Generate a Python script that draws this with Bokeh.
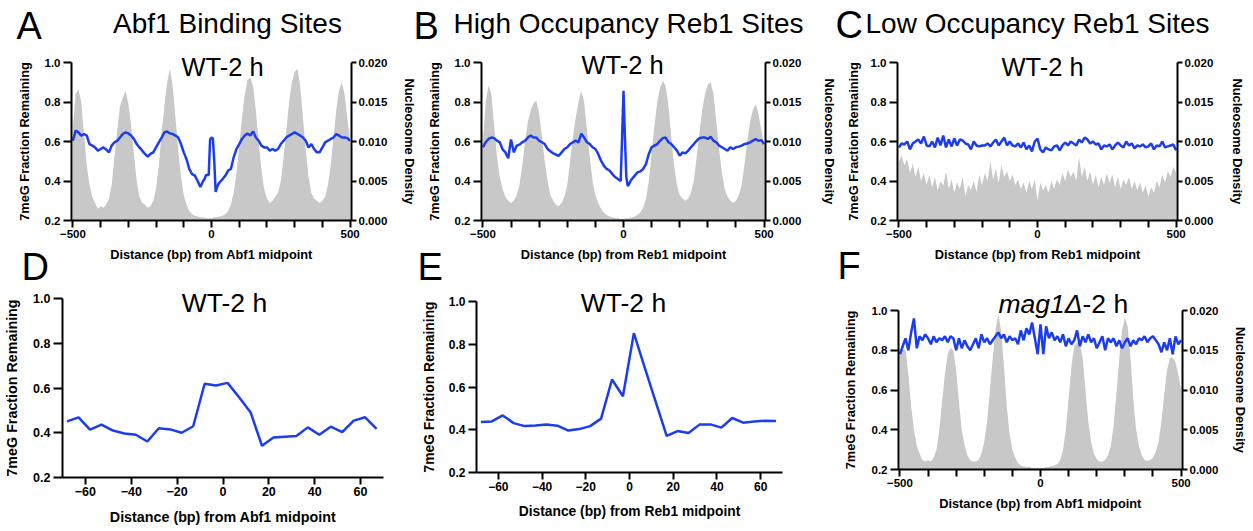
from bokeh.plotting import figure
from bokeh.models import Range1d, LinearAxis, FixedTicker, NumeralTickFormatter, Label, GridBox
from bokeh.layouts import row, column
from bokeh.embed import file_html
from bokeh.resources import INLINE

FONT = "Liberation Sans"
BLUE = "#1c3cf0"
GRAY = "#c8c8c8"

# ---------------- data ----------------
# bp positions (10 bp bins; central region of A/B at 5 bp)
pos_10 = list(range(-500, 501, 10))
pos_fine = list(range(-500, -30, 10)) + list(range(-30, 31, 5)) + list(range(40, 501, 10))
pos_zoom = list(range(-68, 68, 5))

# Panel A: Abf1 binding sites, WT-2 h
abf1_7meg = [0.604, 0.655, 0.646, 0.630, 0.638, 0.630, 0.587, 0.579, 0.570, 0.554,
             0.562, 0.570, 0.560, 0.545, 0.579, 0.596, 0.604, 0.620, 0.638, 0.646,
             0.641, 0.630, 0.613, 0.587, 0.570, 0.554, 0.537, 0.523, 0.537, 0.545,
             0.570, 0.596, 0.620, 0.646, 0.651, 0.641, 0.638, 0.630, 0.620, 0.587,
             0.545, 0.510, 0.460, 0.435, 0.427, 0.400, 0.370,
             0.400, 0.410, 0.430, 0.430, 0.430, 0.610, 0.620, 0.615, 0.500, 0.345, 0.370, 0.385, 0.395,
             0.410, 0.427, 0.453, 0.461, 0.520, 0.562, 0.587,
             0.613, 0.630, 0.641, 0.630, 0.651, 0.620, 0.604, 0.579, 0.570, 0.570,
             0.554, 0.562, 0.554, 0.562, 0.587, 0.604, 0.620, 0.630, 0.638, 0.646,
             0.638, 0.630, 0.620, 0.604, 0.570, 0.587, 0.562, 0.545, 0.545, 0.570,
             0.596, 0.604, 0.613, 0.620, 0.638, 0.630, 0.620, 0.620, 0.617, 0.604]
abf1_nuc = [0.0118, 0.0160, 0.0166, 0.0150, 0.0110, 0.0070, 0.0045, 0.0030, 0.0022, 0.0015,
            0.0018, 0.0016, 0.0020, 0.0028, 0.0045, 0.0080, 0.0115, 0.0145, 0.0155, 0.0164,
            0.0148, 0.0120, 0.0085, 0.0050, 0.0030, 0.0022, 0.0020, 0.0016, 0.0018, 0.0025,
            0.0040, 0.0070, 0.0110, 0.0145, 0.0175, 0.0192, 0.0170, 0.0130, 0.0090, 0.0055,
            0.0032, 0.0020, 0.0012, 0.0008, 0.0006, 0.0005, 0.0004, 0.0004, 0.0003, 0.0003,
            0.0003, 0.0004, 0.0004, 0.0005, 0.0006, 0.0008, 0.0012, 0.0020, 0.0035, 0.0060,
            0.0095, 0.0130, 0.0160, 0.0178, 0.0181, 0.0170, 0.0140, 0.0100, 0.0065, 0.0040,
            0.0028, 0.0022, 0.0025, 0.0030, 0.0035, 0.0050, 0.0080, 0.0115, 0.0150, 0.0175,
            0.0188, 0.0192, 0.0170, 0.0130, 0.0090, 0.0055, 0.0035, 0.0028, 0.0025, 0.0022,
            0.0025, 0.0030, 0.0045, 0.0070, 0.0105, 0.0140, 0.0165, 0.0175, 0.0160, 0.0130,
            0.0100]

# Panel B: high occupancy Reb1 sites, WT-2 h
reb1_hi_7meg = [0.571, 0.596, 0.613, 0.620, 0.617, 0.604, 0.596, 0.560, 0.545, 0.515,
                0.610, 0.545, 0.579, 0.584, 0.596, 0.604, 0.620, 0.630, 0.620, 0.620,
                0.604, 0.596, 0.587, 0.562, 0.550, 0.540, 0.533, 0.528, 0.545, 0.562,
                0.571, 0.587, 0.596, 0.604, 0.596, 0.640, 0.620, 0.596, 0.587, 0.571,
                0.562, 0.537, 0.503, 0.478, 0.461, 0.453, 0.436,
                0.420, 0.415, 0.410, 0.405, 0.400, 0.620, 0.857, 0.620, 0.420, 0.375, 0.385, 0.400, 0.410,
                0.427, 0.444, 0.449, 0.461, 0.486, 0.537, 0.571,
                0.579, 0.587, 0.604, 0.617, 0.620, 0.596, 0.587, 0.571, 0.554, 0.528,
                0.545, 0.540, 0.554, 0.571, 0.587, 0.604, 0.617, 0.620, 0.620, 0.613,
                0.624, 0.604, 0.596, 0.579, 0.571, 0.562, 0.554, 0.571, 0.562, 0.571,
                0.574, 0.579, 0.587, 0.590, 0.596, 0.604, 0.613, 0.604, 0.607, 0.587]
reb1_hi_nuc = [0.0100, 0.0150, 0.0171, 0.0160, 0.0120, 0.0080, 0.0055, 0.0040, 0.0030, 0.0025,
               0.0022, 0.0025, 0.0032, 0.0045, 0.0070, 0.0100, 0.0125, 0.0140, 0.0148, 0.0152,
               0.0135, 0.0105, 0.0075, 0.0050, 0.0032, 0.0025, 0.0020, 0.0018, 0.0022, 0.0030,
               0.0045, 0.0075, 0.0105, 0.0130, 0.0150, 0.0164, 0.0150, 0.0115, 0.0080, 0.0050,
               0.0032, 0.0022, 0.0015, 0.0010, 0.0007, 0.0005, 0.0004, 0.0003, 0.0003, 0.0002,
               0.0002, 0.0003, 0.0003, 0.0004, 0.0005, 0.0007, 0.0010, 0.0016, 0.0028, 0.0050,
               0.0085, 0.0120, 0.0150, 0.0168, 0.0177, 0.0170, 0.0145, 0.0105, 0.0070, 0.0045,
               0.0032, 0.0028, 0.0025, 0.0028, 0.0035, 0.0050, 0.0080, 0.0110, 0.0140, 0.0160,
               0.0172, 0.0175, 0.0160, 0.0125, 0.0090, 0.0060, 0.0040, 0.0030, 0.0025, 0.0022,
               0.0025, 0.0032, 0.0045, 0.0070, 0.0100, 0.0125, 0.0140, 0.0147, 0.0135, 0.0115,
               0.0095]

# Panel C: low occupancy Reb1 sites, WT-2 h
reb1_lo_7meg = [0.570, 0.590, 0.585, 0.600, 0.560, 0.590, 0.600, 0.610, 0.590, 0.625,
                0.580, 0.575, 0.600, 0.570, 0.620, 0.580, 0.630, 0.570, 0.610, 0.575,
                0.615, 0.580, 0.610, 0.605, 0.590, 0.585, 0.560, 0.600, 0.580, 0.575,
                0.580, 0.580, 0.590, 0.575, 0.595, 0.610, 0.580, 0.600, 0.620, 0.580,
                0.600, 0.580, 0.575, 0.590, 0.570, 0.595, 0.560, 0.580, 0.550, 0.600,
                0.615, 0.560, 0.545, 0.570, 0.560, 0.555, 0.575, 0.580, 0.555, 0.580,
                0.595, 0.580, 0.600, 0.590, 0.580, 0.610, 0.595, 0.620, 0.610, 0.590,
                0.600, 0.585, 0.590, 0.560, 0.580, 0.575, 0.585, 0.560, 0.580, 0.595,
                0.580, 0.570, 0.600, 0.580, 0.590, 0.565, 0.580, 0.575, 0.585, 0.570,
                0.575, 0.590, 0.560, 0.580, 0.575, 0.600, 0.570, 0.575, 0.580, 0.585,
                0.555]
reb1_lo_nuc = [0.0075, 0.0082, 0.0070, 0.0078, 0.0060, 0.0072, 0.0055, 0.0068, 0.0050, 0.0060,
               0.0045, 0.0058, 0.0042, 0.0055, 0.0038, 0.0050, 0.0044, 0.0062, 0.0040, 0.0052,
               0.0035, 0.0048, 0.0040, 0.0055, 0.0030, 0.0045, 0.0038, 0.0050, 0.0036, 0.0058,
               0.0045, 0.0060, 0.0050, 0.0075, 0.0052, 0.0065, 0.0048, 0.0070, 0.0055, 0.0062,
               0.0050, 0.0058, 0.0045, 0.0052, 0.0040, 0.0048, 0.0035, 0.0050, 0.0040, 0.0052,
               0.0025, 0.0048, 0.0038, 0.0045, 0.0035, 0.0050, 0.0040, 0.0052, 0.0045, 0.0060,
               0.0050, 0.0065, 0.0055, 0.0062, 0.0050, 0.0080, 0.0055, 0.0068, 0.0050, 0.0062,
               0.0045, 0.0058, 0.0042, 0.0055, 0.0045, 0.0060, 0.0048, 0.0058, 0.0042, 0.0055,
               0.0040, 0.0052, 0.0045, 0.0055, 0.0040, 0.0050, 0.0038, 0.0048, 0.0035, 0.0045,
               0.0030, 0.0042, 0.0035, 0.0050, 0.0042, 0.0058, 0.0048, 0.0062, 0.0055, 0.0068,
               0.0060]

# Panel D / E: zoomed WT-2 h profiles (5 bp bins)
abf1_zoom_7meg = [0.451, 0.469, 0.414, 0.436, 0.410, 0.397, 0.391, 0.361, 0.420, 0.415,
                  0.400, 0.429, 0.619, 0.611, 0.623, 0.559, 0.492, 0.342, 0.379, 0.382,
                  0.385, 0.424, 0.391, 0.427, 0.403, 0.454, 0.469, 0.417]
reb1_zoom_7meg = [0.436, 0.439, 0.467, 0.431, 0.417, 0.420, 0.425, 0.419, 0.396, 0.403,
                  0.417, 0.452, 0.635, 0.557, 0.852, 0.690, 0.530, 0.371, 0.394, 0.385,
                  0.424, 0.425, 0.410, 0.455, 0.433, 0.439, 0.442, 0.441]

# Panel F: Abf1 sites, mag1Δ-2 h
mag1_7meg = [0.78, 0.82, 0.86, 0.80, 0.89, 0.96, 0.81, 0.87, 0.85, 0.88,
             0.86, 0.83, 0.87, 0.84, 0.86, 0.85, 0.87, 0.84, 0.87, 0.86,
             0.80, 0.86, 0.81, 0.85, 0.82, 0.80, 0.83, 0.86, 0.81, 0.88,
             0.84, 0.86, 0.83, 0.85, 0.87, 0.89, 0.86, 0.88, 0.84, 0.87,
             0.85, 0.86, 0.83, 0.90, 0.85, 0.91, 0.88, 0.94, 0.86, 0.78,
             0.93, 0.78, 0.92, 0.86, 0.89, 0.85, 0.87, 0.84, 0.88, 0.82,
             0.86, 0.83, 0.85, 0.90, 0.82, 0.87, 0.84, 0.88, 0.84, 0.86,
             0.81, 0.84, 0.87, 0.80, 0.86, 0.84, 0.86, 0.82, 0.85, 0.81,
             0.84, 0.86, 0.82, 0.85, 0.83, 0.86, 0.85, 0.87, 0.84, 0.86,
             0.87, 0.85, 0.83, 0.79, 0.84, 0.80, 0.86, 0.78, 0.87, 0.83,
             0.85]
mag1_nuc = [0.0145, 0.0150, 0.0151, 0.0120, 0.0080, 0.0050, 0.0030, 0.0020, 0.0012, 0.0010,
            0.0012, 0.0010, 0.0015, 0.0025, 0.0050, 0.0085, 0.0120, 0.0145, 0.0153, 0.0150,
            0.0125, 0.0085, 0.0050, 0.0030, 0.0018, 0.0012, 0.0010, 0.0010, 0.0012, 0.0020,
            0.0035, 0.0060, 0.0100, 0.0140, 0.0175, 0.0195, 0.0175, 0.0130, 0.0080, 0.0045,
            0.0025, 0.0015, 0.0008, 0.0005, 0.0004, 0.0003, 0.0003, 0.0002, 0.0002, 0.0002,
            0.0002, 0.0002, 0.0003, 0.0003, 0.0004, 0.0005, 0.0007, 0.0012, 0.0025, 0.0050,
            0.0090, 0.0130, 0.0155, 0.0160, 0.0158, 0.0140, 0.0100, 0.0060, 0.0035, 0.0020,
            0.0013, 0.0010, 0.0010, 0.0012, 0.0018, 0.0030, 0.0055, 0.0095, 0.0140, 0.0175,
            0.0191, 0.0180, 0.0140, 0.0090, 0.0050, 0.0030, 0.0018, 0.0012, 0.0011, 0.0012,
            0.0015, 0.0022, 0.0035, 0.0060, 0.0095, 0.0125, 0.0140, 0.0141, 0.0135, 0.0120,
            0.0100]

left_ticks = [0.2, 0.4, 0.6, 0.8, 1.0]
right_ticks = [0.0, 0.005, 0.010, 0.015, 0.020]
wide_ticks = [-500, 0, 500]
wide_minor = [-400, -300, -200, -100, 100, 200, 300, 400]
zoom_ticks = [-60, -40, -20, 0, 20, 40, 60]

Y_LABEL = "7meG Fraction Remaining"
R_LABEL = "Nucleosome Density"
panel_letters = ["A", "B", "C", "D", "E", "F"]
panel_titles = ["Abf1 Binding Sites", "High Occupancy Reb1 Sites", "Low Occupancy Reb1 Sites"]


# ---------------- helpers ----------------
def style_axis(ax, tick_size, label_size, tick_out, standoff, label_standoff):
    ax.axis_line_width = 2
    ax.axis_line_color = "black"
    ax.major_tick_line_width = 2
    ax.minor_tick_line_width = 2
    ax.major_tick_line_color = "black"
    ax.minor_tick_line_color = "black"
    ax.major_tick_in = 0
    ax.minor_tick_in = 0
    ax.major_tick_out = tick_out
    ax.minor_tick_out = tick_out
    ax.major_label_standoff = standoff
    ax.major_label_text_font = FONT
    ax.major_label_text_font_style = "bold"
    ax.major_label_text_font_size = tick_size
    ax.major_label_text_color = "black"
    ax.axis_label_text_font = FONT
    ax.axis_label_text_font_style = "bold"
    ax.axis_label_text_font_size = label_size
    ax.axis_label_text_color = "black"
    ax.axis_label_standoff = label_standoff


def make_panel(g, xr, xticks, xminor, xlabel, right, tick_size, label_size,
               lstand, rstand, bstand, ltick=8):
    ox, oy, w, h, fl, ft, fr, fb = g
    p = figure(width=w, height=h, x_range=Range1d(*xr), y_range=Range1d(0.2, 1.0),
               output_backend="svg", toolbar_location=None,
               min_border_left=fl - ox, min_border_right=ox + w - fr,
               min_border_top=ft - oy, min_border_bottom=oy + h - fb)
    p.outline_line_color = None
    p.xgrid.grid_line_color = None
    p.ygrid.grid_line_color = None
    p.background_fill_color = "white"
    p.border_fill_color = "white"

    xa = p.xaxis[0]
    xa.ticker = FixedTicker(ticks=xticks, minor_ticks=xminor)
    xa.axis_label = xlabel
    style_axis(xa, tick_size, label_size, 7, 2, bstand)

    ya = p.yaxis[0]
    ya.ticker = FixedTicker(ticks=left_ticks)
    ya.formatter = NumeralTickFormatter(format="0.0")
    ya.axis_label = Y_LABEL
    style_axis(ya, tick_size, label_size, ltick, 3, lstand)

    if right:
        p.extra_y_ranges = {"dens": Range1d(0.0, 0.02)}
        ra = LinearAxis(y_range_name="dens", axis_label=R_LABEL,
                        ticker=FixedTicker(ticks=right_ticks),
                        formatter=NumeralTickFormatter(format="0.000"))
        style_axis(ra, tick_size, label_size, 5, 2, rstand)
        p.add_layout(ra, "right")
    return p


# geometry: (origin x, origin y, width, height, frame left, top, right, bottom) in page px
gA = (0, 0, 420, 285, 71, 62, 355, 220)
gB = (420, 0, 422, 285, 481, 62, 765, 220)
gC = (842, 0, 411, 285, 892, 62, 1177, 220)
gD = (0, 285, 418, 246, 62, 298, 383, 477)
gE = (418, 285, 418, 246, 473, 301, 782, 472)
gF = (836, 285, 417, 246, 898, 310, 1182, 469)

WR = (-505, 505)
ZR = (-70, 70)
T_TICK, T_LAB = "11.5px", "12.8px"

pA = make_panel(gA, WR, wide_ticks, wide_minor, "Distance (bp) from Abf1 midpoint", True,
                T_TICK, T_LAB, 10, 12, 6)
pA.varea(x=pos_10, y1=0, y2=abf1_nuc, y_range_name="dens", fill_color=GRAY)
pA.line(pos_fine, abf1_7meg, line_color=BLUE, line_width=2.5)

pB = make_panel(gB, WR, wide_ticks, wide_minor, "Distance (bp) from Reb1 midpoint", True,
                T_TICK, T_LAB, 10, 18, 6)
pB.varea(x=pos_10, y1=0, y2=reb1_hi_nuc, y_range_name="dens", fill_color=GRAY)
pB.line(pos_fine, reb1_hi_7meg, line_color=BLUE, line_width=2.5)

pC = make_panel(gC, WR, wide_ticks, wide_minor, "Distance (bp) from Reb1 midpoint", True,
                T_TICK, T_LAB, 7, 14, 6)
pC.varea(x=pos_10, y1=0, y2=reb1_lo_nuc, y_range_name="dens", fill_color=GRAY)
pC.line(pos_10, reb1_lo_7meg, line_color=BLUE, line_width=2.5)

pD = make_panel(gD, ZR, zoom_ticks, [], "Distance (bp) from Abf1 midpoint", False,
                "12.5px", "14.3px", 10, 0, 10, ltick=9)
pD.line(pos_zoom, abf1_zoom_7meg, line_color=BLUE, line_width=2.5)

pE = make_panel(gE, ZR, zoom_ticks, [], "Distance (bp) from Reb1 midpoint", False,
                "12px", "13.8px", 9, 0, 10, ltick=8)
pE.line(pos_zoom, reb1_zoom_7meg, line_color=BLUE, line_width=2.5)

pF = make_panel(gF, WR, wide_ticks, wide_minor, "Distance (bp) from Abf1 midpoint", True,
                T_TICK, T_LAB, 11, 12, 6)
pF.varea(x=pos_10, y1=0, y2=mag1_nuc, y_range_name="dens", fill_color=GRAY)
pF.line(pos_10, mag1_7meg, line_color=BLUE, line_width=2.5)

# ---------------- transparent text overlay (page pixel coordinates) ----------------
W, H = 1253, 531
ov = figure(width=W, height=H, x_range=Range1d(0, W), y_range=Range1d(H, 0),
            output_backend="svg", toolbar_location=None,
            x_axis_location=None, y_axis_location=None, min_border=0)
ov.outline_line_color = None
ov.background_fill_color = None
ov.border_fill_color = None
ov.grid.visible = False


def put(x, y, text, size, align="center", style="normal"):
    ov.add_layout(Label(x=x, y=y, text=text, text_font=FONT, text_font_size=size,
                        text_align=align, text_baseline="middle",
                        text_font_style=style, text_color="black"))


LET, TIT = "38px", "28px"
letter_pos = [(16, 25), (413, 25), (835, 24), (21, 266), (417, 266), (837, 265)]
for (lx, ly), t in zip(letter_pos, panel_letters):
    put(lx, ly, t, LET, "left")

for cx, t in zip([227, 628, 1037], panel_titles):
    put(cx, 23, t, TIT)

put(222, 66, "WT-2 h", "25.5px")
put(622, 64, "WT-2 h", "25.5px")
put(1042, 66, "WT-2 h", "25.5px")
put(224, 302, "WT-2 h", "26.5px")
put(623, 302, "WT-2 h", "26.5px")
put(1082, 303, "mag1Δ", "26.5px", "right", "italic")
put(1082, 303, "-2 h", "26.5px", "left")

main = column(row(pA, pB, pC),
              row(column(pD), column(pE), column(pF)))
layout = GridBox(children=[(main, 0, 0), (ov, 0, 0)])

with open("out.html", "w") as f:
    f.write(file_html(layout, INLINE))
